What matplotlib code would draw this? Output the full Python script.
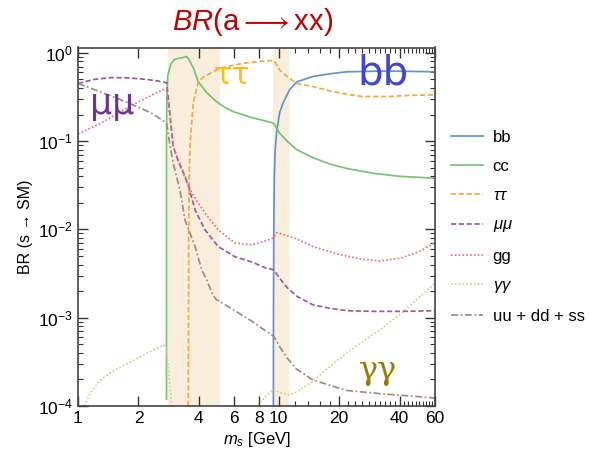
import numpy as np
import matplotlib.pyplot as plt
from matplotlib.ticker import FixedLocator, NullFormatter, LogLocator

plt.rcParams['font.family'] = ['Liberation Sans', 'DejaVu Sans']
plt.rcParams['mathtext.fontset'] = 'custom'
plt.rcParams['mathtext.rm'] = 'Liberation Sans'
plt.rcParams['mathtext.it'] = 'Liberation Sans:italic'

# branching ratios of the scalar s vs its mass m_s (GeV)
bb_m = [9.4, 9.41, 9.45, 9.5, 9.6, 9.75, 10.1, 10.5, 11.3, 12.3, 14.8, 18, 21.8, 30, 40, 60]
bb_br = [1e-4, 1e-3, 0.012, 0.04, 0.08, 0.124, 0.21, 0.27, 0.38, 0.47, 0.54, 0.58, 0.61, 0.62, 0.62, 0.61]

cc_m = [2.76, 2.76, 2.77, 2.8, 2.9, 3.04, 3.3, 3.47, 3.55, 3.76, 3.97, 4.4, 4.9, 5.4, 5.94,
        7.2, 8.5, 9.4, 9.6, 10.1, 11, 12.3, 14.8, 18, 21.8, 30, 40, 60]
cc_br = [1.2e-4, 0.1, 0.3, 0.55, 0.75, 0.85, 0.88, 0.91, 0.86, 0.67, 0.47, 0.35, 0.28, 0.24, 0.216,
         0.187, 0.17, 0.16, 0.15, 0.123, 0.1, 0.08, 0.065, 0.055, 0.049, 0.043, 0.040, 0.038]

tau_m = [3.54, 3.55, 3.56, 3.58, 3.61, 3.68, 3.75, 3.97, 4.2, 4.9, 5.5, 6.6, 8, 9.4,
         9.6, 10.1, 11, 12.3, 14.8, 18, 21.8, 26.2, 35, 45, 60]
tau_br = [1e-4, 1e-3, 0.01, 0.036, 0.087, 0.16, 0.27, 0.47, 0.53, 0.64, 0.7, 0.76, 0.8, 0.82,
          0.78, 0.64, 0.54, 0.45, 0.415, 0.37, 0.34, 0.32, 0.32, 0.33, 0.334]

mu_m = [1, 1.2, 1.47, 1.8, 2.2, 2.5, 2.76, 2.8, 2.98, 3.15, 3.35, 3.55, 3.83, 4.29, 4.99,
        6.05, 7.3, 8.5, 9.4, 9.6, 10.1, 11, 12.3, 14.8, 17.9, 22, 30, 40, 60]
mu_br = [0.45, 0.5, 0.525, 0.52, 0.5, 0.48, 0.46, 0.35, 0.087, 0.06, 0.0434, 0.031, 0.0166, 0.0099, 0.0064,
         0.0049, 0.0043, 0.0037, 0.0035, 0.0033, 0.0028, 0.0022, 0.00175, 0.0014, 0.00128, 0.0012, 0.00118, 0.00118, 0.0012]

gg_m = [1, 1.3, 1.6, 1.86, 2.2, 2.5, 2.76, 2.8, 2.98, 3.22, 3.68, 4.29, 4.99, 6.05, 7.3,
        8.3, 9.4, 9.75, 10.5, 12.3, 14.8, 20, 26, 31.9, 40, 50, 60]
gg_br = [0.12, 0.16, 0.21, 0.257, 0.31, 0.36, 0.40, 0.3, 0.087, 0.056, 0.026, 0.0153, 0.0099, 0.007, 0.0067,
         0.0072, 0.008, 0.0092, 0.0088, 0.0078, 0.0064, 0.0052, 0.0046, 0.0044, 0.0047, 0.0056, 0.0071]

aa_m = [1.075, 1.15, 1.29, 1.5, 1.89, 2.28, 2.66, 2.76, 2.82, 2.93, 3.05,
        7.5, 7.8, 8.5, 9.4, 9.6, 10.1, 10.9, 11.3, 12.3, 14.8, 18, 21.8, 31.9, 41.7, 50, 60]
aa_br = [1e-4, 1.4e-4, 1.97e-4, 2.5e-4, 3.3e-4, 4.1e-4, 4.9e-4, 4.5e-4, 2.6e-4, 1e-4, 5e-5,
         7e-5, 1e-4, 1.25e-4, 1.55e-4, 1.5e-4, 1.42e-4, 1.37e-4, 1.33e-4, 1.45e-4, 1.9e-4, 2.8e-4, 4e-4,
         7.3e-4, 1.17e-3, 1.7e-3, 2.46e-3]

q_m = [1, 1.3, 1.6, 1.96, 2.3, 2.56, 2.76, 2.85, 2.98, 3.22, 3.41, 3.83, 4.13, 4.37, 4.7,
       4.9, 5.94, 7.2, 8.3, 9.4, 9.6, 10.1, 11, 12.3, 14.8, 21.8, 31.9, 45, 60]
q_br = [0.45, 0.36, 0.3, 0.247, 0.21, 0.18, 0.16, 0.1, 0.056, 0.028, 0.0128, 0.0064, 0.0035, 0.0027, 0.0018,
        0.0016, 0.00123, 0.00094, 0.00075, 0.00062, 0.00058, 0.00047, 0.00035, 0.00026, 0.000197, 0.00015,
        0.000138, 0.00013, 0.000123]

# resonance regions (charmonium / bottomonium)
bands = [(2.8, 5.1), (9.4, 11.3)]

xticks = [1, 2, 4, 6, 8, 10, 20, 40, 60]
xminor = [m for m in range(12, 60, 2) if m not in xticks]
yminor = [s * 10.0 ** e for e in range(-4, 0) for s in range(2, 10)]

fig = plt.figure(figsize=(5.89, 4.54), dpi=100)
ax = fig.add_axes([78 / 589, 1 - 406 / 454, 357 / 589, 358.5 / 454])

for lo, hi in bands:
    ax.axvspan(lo, hi, color='#F8EEDB', lw=0, zorder=0)

lw = 1.25
ax.plot(bb_m, bb_br, color='#5E93DB', lw=lw, label='bb')
ax.plot(cc_m, cc_br, color='#74C474', lw=lw, label='cc')
ax.plot(tau_m, tau_br, color='#F7A643', lw=lw, ls=(0, (3, 1.5)), label=r'$\tau\tau$')
ax.plot(mu_m, mu_br, color='#9B5B9E', lw=lw, ls=(0, (3, 1.5)), label=r'$\mu\mu$')
ax.plot(gg_m, gg_br, color='#F2707C', lw=lw, ls=(0, (1, 1.2)), label='gg')
ax.plot(aa_m, aa_br, color='#DCCB94', lw=lw, ls=(0, (1, 1.2)), label=r'$\gamma\gamma$')
ax.plot(q_m, q_br, color='#A08A80', lw=lw, ls=(0, (4, 1.5, 1, 1.5)), label='uu + dd + ss')

ax.set_xscale('log')
ax.set_yscale('log')
ax.set_xlim(1, 60)
ax.set_ylim(1e-4, 1.15)

ax.xaxis.set_major_locator(FixedLocator(xticks))
ax.set_xticklabels([str(t) for t in xticks])
ax.xaxis.set_minor_locator(FixedLocator(xminor))
ax.xaxis.set_minor_formatter(NullFormatter())
ax.yaxis.set_major_locator(LogLocator(base=10, numticks=10))
ax.yaxis.set_minor_locator(FixedLocator(yminor))
ax.yaxis.set_minor_formatter(NullFormatter())

ax.tick_params(which='both', direction='in', top=True, right=True, labelsize=12.5, color='#333333')
ax.tick_params(which='major', length=7, width=1)
ax.tick_params(which='minor', length=3.5, width=0.8)
for sp in ax.spines.values():
    sp.set_color('#444444')
    sp.set_linewidth(1.2)

ax.set_xlabel(r'$m_s$ [GeV]', fontsize=12, labelpad=3)
ax.set_ylabel('BR (s → SM)', fontsize=11.5, labelpad=4)

fig.legend(loc='center left', bbox_to_anchor=(451 / 589, 0.5), frameon=False,
           fontsize=12, handlelength=1.9, handletextpad=0.6, labelspacing=0.85,
           borderpad=0, borderaxespad=0)

# big channel labels
fig.text(253 / 589, 1 - 22 / 454, r'$\mathit{BR}$(a$\longrightarrow$xx)', color='#C00000',
         fontsize=21, ha='center', va='center')
fig.text(232 / 589, 1 - 76 / 454, 'ττ', color='#FFBE00', fontsize=22,
         ha='center', va='center', family=['DejaVu Sans'])
fig.text(383 / 589, 1 - 74 / 454, 'bb', color='#4046D4', fontsize=29,
         ha='center', va='center', family=['DejaVu Sans'])
fig.text(112 / 589, 1 - 104 / 454, 'μμ', color='#7030A0', fontsize=25,
         ha='center', va='center', family=['DejaVu Sans'])
fig.text(378 / 589, 1 - 370 / 454, 'γγ', color='#9C7800', fontsize=23,
         ha='center', va='center', family=['DejaVu Serif'])

fig.savefig('out.png', dpi=100)
